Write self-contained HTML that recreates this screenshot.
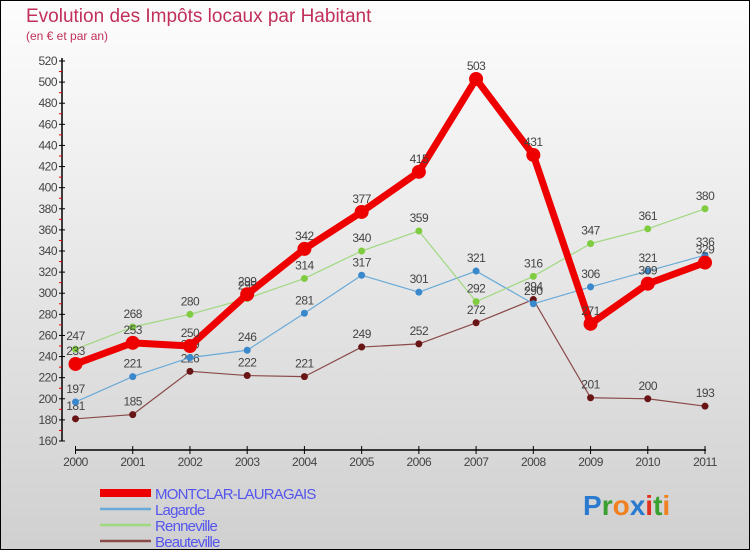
<!DOCTYPE html>
<html><head><meta charset="utf-8"><style>
html,body{margin:0;padding:0}
body{width:750px;height:550px;overflow:hidden;font-family:"Liberation Sans",sans-serif}
#wrap{position:absolute;left:0;top:0;width:748px;height:548px;border:1px solid #000;background:linear-gradient(#fdfdfd,#d0d0d0)}
</style></head><body>
<div id="wrap">
<svg id="chart" width="750" height="550" style="position:absolute;left:-1px;top:-1px">
<text x="26" y="22" font-size="19" fill="#c0305a">Evolution des Impôts locaux par Habitant</text>
<text x="26" y="40" font-size="12" fill="#c0305a">(en € et par an)</text>
</svg>
</div>
<script>
const years=["2000","2001","2002","2003","2004","2005","2006","2007","2008","2009","2010","2011"];
const montclar=[233,253,250,299,342,377,415,503,431,271,309,329];
const lagarde=[197,221,239,246,281,317,301,321,290,306,321,336];
const renneville=[247,268,280,295,314,340,359,292,316,347,361,380];
const beauteville=[181,185,226,222,221,249,252,272,294,201,200,193];
const yTicks=[160,180,200,220,240,260,280,300,320,340,360,380,400,420,440,460,480,500,520];
const seriesNames=["MONTCLAR-LAURAGAIS","Lagarde","Renneville","Beauteville"];

const svg=document.getElementById('chart');
const NS='http://www.w3.org/2000/svg';
function X(i){return 75.5+i*(705-75.5)/(years.length-1);}
function Y(v){return 441-(v-160)*(441-61)/(520-160);}
function mk(tag,attrs,parent){const e=document.createElementNS(NS,tag);for(const k in attrs)e.setAttribute(k,attrs[k]);(parent||svg).appendChild(e);return e;}

// axes
let ax=mk('line',{x1:62,y1:58,x2:62,y2:441,stroke:'#000','stroke-width':1.5});


yTicks.forEach((v,i)=>{
  const t=mk('line',{x1:59,y1:Y(v),x2:65,y2:Y(v),stroke:'#000'});
  
  
  if(i<yTicks.length-1){
    const m=mk('line',{x1:59,y1:Y(v+10),x2:62,y2:Y(v+10),stroke:'#e00'});
    
    
  }
  const l=mk('text',{x:57,y:Y(v)+4,'font-size':12,fill:'#444','text-anchor':'end','letter-spacing':'-0.5'});
  l.textContent=v;
  
  
});
let xa=mk('line',{x1:75,y1:450,x2:706,y2:450,stroke:'#000','stroke-width':1.5});


years.forEach((y,i)=>{
  const t=mk('line',{x1:X(i),y1:446,x2:X(i),y2:454,stroke:'#000'});
  
  
  const l=mk('text',{x:X(i),y:466,'font-size':12,fill:'#444','text-anchor':'middle','letter-spacing':'-0.5'});
  l.textContent=y;
  
  
});

function series(data,color,dot,w,r,name){
  const g=mk('g',{});
  
  
  mk('polyline',{points:data.map((v,i)=>X(i)+','+Y(v)).join(' '),fill:'none',stroke:color,'stroke-width':w,'stroke-linejoin':'round'},g);
  data.forEach((v,i)=>{
    const c=mk('circle',{cx:X(i),cy:Y(v),r:r,fill:dot},g);
    
    
    const t=mk('text',{x:X(i),y:Y(v)-9,'font-size':12,fill:'#444','text-anchor':'middle','letter-spacing':'-0.5'},g);
    t.textContent=v;
    
    
  });
}
series(beauteville,'#8a4a4a','#6a1515',1.2,3.5,'beauteville-series');
series(lagarde,'#6aaad8','#3a88cc',1.2,3.5,'lagarde-series');
series(renneville,'#a0d880','#80cc40',1.2,3.5,'renneville-series');
series(montclar,'#ee0000','#ee0000',7,7,'montclar-series');

// legend
const lc=['#ee0000','#6aaad8','#a0d880','#8a4a4a'];
const lw=[8,2.5,2.5,2.5];
seriesNames.forEach((n,i)=>{
  const y=493+i*16;
  const l=mk('line',{x1:100,y1:y,x2:151,y2:y,stroke:lc[i],'stroke-width':lw[i]});
  
  
  const t=mk('text',{x:155,y:y+6,'font-size':15,fill:'#5555ee','letter-spacing':'-0.8'});
  t.textContent=n;
  
  
});
// logo
const logo=mk('text',{x:583,y:515,'font-size':28,'font-weight':'bold'});


[['P','#2a7ad0'],['r','#3aa030'],['o','#f08020'],['x','#2a7ad0'],['i','#e03020'],['t','#3aa030'],['i','#f08020']].forEach(([c,f])=>{const s=mk('tspan',{fill:f},logo);s.textContent=c;});
</script>
</body></html>
